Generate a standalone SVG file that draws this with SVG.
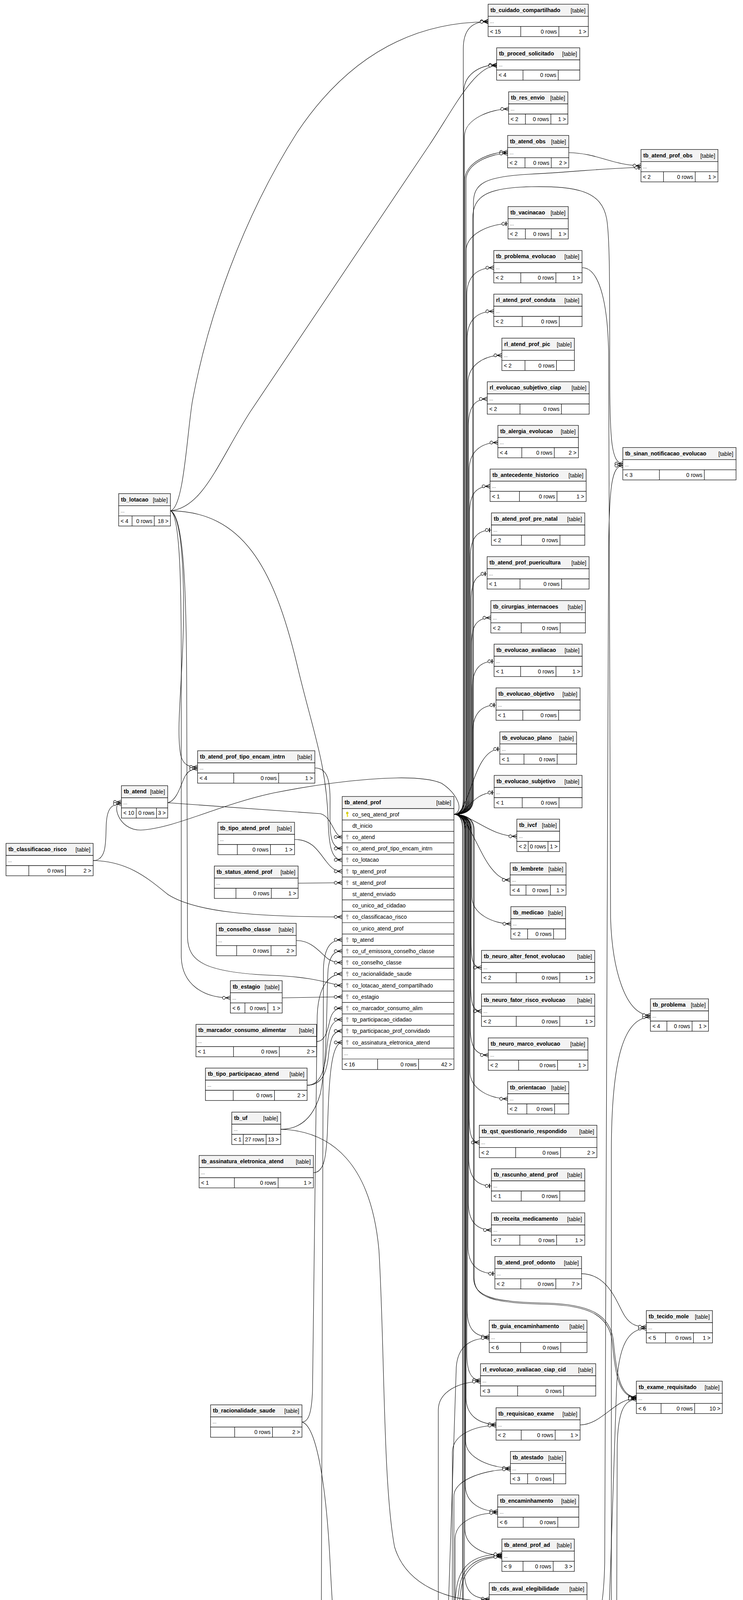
<svg xmlns="http://www.w3.org/2000/svg" xmlns:xlink="http://www.w3.org/1999/xlink" width="1902" height="6987" viewBox="0 0 1902 6987">
<style>
text{font-family:"Liberation Sans",Arial,Helvetica,sans-serif;font-size:14px;fill:#000}
.n{font-weight:bold}
.e{text-anchor:end}
.d{font-size:12px;fill:#444}
.t rect{stroke:#000;stroke-width:1.2}
.hd{fill:#f3f3f3}
.bd{fill:#fff}
.dv{stroke:#000;stroke-width:1.2;fill:none}
#connectors path{fill:none;stroke:#000;stroke-width:1.1}
.m{marker-end:url(#many)}
.o{marker-end:url(#one)}
</style>
<defs>
<marker id="many" viewBox="-22 -8 23 16" refX="0" refY="0" markerWidth="23" markerHeight="16" markerUnits="userSpaceOnUse" orient="auto" overflow="visible">
<path d="M-12,0L0,-5M-12,0L0,5M-12,0L0,0" stroke="#000" stroke-width="1.3" fill="none"/>
<circle cx="-16.5" cy="0" r="3.8" fill="#fff" stroke="#000" stroke-width="1.2"/>
</marker>
<marker id="one" viewBox="-22 -8 23 16" refX="0" refY="0" markerWidth="23" markerHeight="16" markerUnits="userSpaceOnUse" orient="auto" overflow="visible">
<path d="M-5,-5.5L-5,5.5" stroke="#000" stroke-width="2.4" fill="none"/>
<circle cx="-12" cy="0" r="3.8" fill="#fff" stroke="#000" stroke-width="1.2"/>
</marker>
<g id="pk"><ellipse cx="0" cy="-3.2" rx="2.6" ry="3" fill="#e2d800" stroke="#a89c00" stroke-width=".6"/><rect x="-1" y="-0.8" width="2" height="7.5" fill="#e2d800"/><rect x="1" y="3.5" width="1.8" height="1.4" fill="#e2d800"/></g>
<g id="fk"><ellipse cx="0" cy="-3.2" rx="2.6" ry="3" fill="#bcbcbc" stroke="#999" stroke-width=".6"/><rect x="-1" y="-0.8" width="2" height="7.5" fill="#bcbcbc"/><rect x="1" y="3.5" width="1.8" height="1.4" fill="#bcbcbc"/></g>
</defs>
<rect width="1902" height="6987" fill="#fff"/>

<g id="connectors">
<!-- from tb_atend_prof -->
<path class="m" d="M1162,2085Q1186,2085 1186,2045L1186,124.7C1186,79.7 1204.5,54.7 1249.5,54.7"/>
<path class="m" d="M1162,2085Q1187,2085 1187,2045L1187,236.4C1187,191.4 1226.4,166.4 1271.4,166.4"/>
<path class="m" d="M1162,2085Q1189,2085 1189,2045L1189,349C1189,304 1257,279 1302,279"/>
<path class="m" d="M1162,2085Q1190,2085 1190,2045L1190,460.7C1190,415.7 1254.5,389 1299.5,389"/>
<path class="m" d="M1162,2085Q1193,2085 1193,2045L1193,462C1193,418 1255,393 1299.5,393"/>
<path class="o" d="M1162,2085Q1212,2085 1212,2045L1212,520C1212,470 1240,452 1355,446C1480,440 1560,429 1640.8,429"/>
<path class="o" d="M1162,2085Q1193,2085 1193,2045L1193,642.8C1193,597.8 1255.5,572.8 1300.5,572.8"/>
<path class="m" d="M1162,2085Q1195,2085 1195,2045L1195,755.3C1195,710.3 1219,685.3 1264,685.3"/>
<path class="m" d="M1162,2085Q1196,2085 1196,2045L1196,867C1196,822 1219,797 1264,797"/>
<path class="m" d="M1162,2085Q1198,2085 1198,2045L1198,979.6C1198,934.6 1239.7,909.6 1284.7,909.6"/>
<path class="m" d="M1162,2085Q1199,2085 1199,2045L1199,1091.3C1199,1046.3 1212.4,1021.3 1247.4,1021.3"/>
<path class="m" d="M1162,2085Q1201,2085 1201,2045L1201,1203C1201,1158 1229.5,1133 1274.5,1133"/>
<path class="m" d="M1162,2085Q1210,2085 1210,2045L1210,560C1210,500 1250,480 1360,478C1480,476 1540,490 1553,560C1563,620 1560,800 1561,1000C1562,1120 1565,1187 1594.4,1187"/>
<path class="m" d="M1162,2085Q1202,2085 1202,2045L1202,1314.8C1202,1269.8 1214.5,1244.8 1254.5,1244.8"/>
<path class="o" d="M1162,2085Q1204,2085 1204,2045L1204,1427C1204,1382 1218,1357 1258,1357"/>
<path class="o" d="M1162,2085Q1206,2085 1206,2045L1206,1539C1206,1494 1217,1469 1247,1469"/>
<path class="m" d="M1162,2085Q1207,2085 1207,2045L1207,1651.5C1207,1606.5 1216.5,1581.5 1256.5,1581.5"/>
<path class="o" d="M1162,2085Q1209,2085 1209,2045L1209,1763C1209,1718 1224.7,1693 1264.7,1693"/>
<path class="o" d="M1162,2085Q1210,2085 1210,2045L1210,1875C1210,1830 1229.8,1805 1269.8,1805"/>
<path class="o" d="M1162,2085C1205,2085 1209.5,1917.5 1279.5,1917.5"/>
<path class="o" d="M1162,2085C1200,2085 1205,2029 1265,2029"/>
<path class="m" d="M1162,2085C1210,2085 1253,2141 1323,2141"/>
<path class="m" d="M1162,2085C1210,2085 1236,2252.7 1306,2252.7"/>
<path class="m" d="M1162,2085Q1208,2085 1208,2125L1208,2295C1208,2340 1262.7,2365 1307.7,2365"/>
<path class="m" d="M1162,2085Q1206,2085 1206,2125L1206,2407C1206,2452 1207.5,2477 1232.5,2477"/>
<path class="m" d="M1162,2085Q1205,2085 1205,2125L1205,2518.6C1205,2563.6 1207.5,2588.6 1232.5,2588.6"/>
<path class="m" d="M1162,2085Q1204,2085 1204,2125L1204,2631C1204,2676 1215,2701 1250,2701"/>
<path class="m" d="M1162,2085Q1203,2085 1203,2125L1203,2743C1203,2788 1254.5,2813 1299.5,2813"/>
<path class="m" d="M1162,2085Q1201,2085 1201,2125L1201,2854.6C1201,2899.6 1205,2924.6 1227,2924.6"/>
<path class="o" d="M1162,2085Q1200,2085 1200,2125L1200,2966C1200,3011 1218,3036 1258,3036"/>
<path class="m" d="M1162,2085Q1199,2085 1199,2125L1199,3078.8C1199,3123.8 1218,3148.8 1258,3148.8"/>
<path class="o" d="M1162,2085Q1198,2085 1198,2125L1198,3190.6C1198,3235.6 1221.8,3260.6 1266.8,3260.6"/>
<path class="m" d="M1162,2085Q1196,2085 1196,2125L1196,3353.6C1196,3398.6 1212.4,3422 1252.4,3422"/>
<path class="m" d="M1162,2085Q1195,2085 1195,2125L1195,3465C1195,3510 1205,3533 1230,3533"/>
<path class="m" d="M1162,2085Q1212,2085 1212,2125L1212,3270C1213,3320 1260,3333 1400,3336C1500,3339 1560,3360 1570,3430C1578,3520 1588,3576.5 1629,3576.5"/>
<path class="m" d="M1162,2085Q1214,2085 1214,2125L1214,3273C1215,3323 1262,3336 1400,3339C1498,3342 1557,3362 1567,3432C1575,3522 1585,3577.5 1629,3577.5"/>
<path class="m" d="M1162,2085Q1193,2085 1193,2125L1193,3577.8C1193,3622.8 1224.8,3646 1269.8,3646"/>
<path class="m" d="M1162,2085Q1192,2085 1192,2125L1192,3689.6C1192,3734.6 1261.6,3758 1306.6,3758"/>
<path class="m" d="M1162,2085Q1191,2085 1191,2125L1191,3801C1191,3846 1229,3869 1274,3869"/>
<path class="m" d="M1162,2085Q1190,2085 1190,2125L1190,3913.8C1190,3958.8 1239.7,3981.5 1284.7,3981.5"/>
<path class="m" d="M1162,2085Q1189,2085 1189,2125L1189,4025.5C1189,4070.5 1207.4,4093 1252.4,4093"/>
<path class="m" d="M1162,2085Q1186,2085 1186,2125L1186,4348.7C1186,4393.7 1214.6,4418.7 1239.6,4418.7"/>
<path class="m" d="M1162,2085Q1184,2085 1184,2125L1184,4699C1184,4744 1215.6,4767 1260.6,4767"/>
<path class="m" d="M1162,2085C1190,2075 1170,2030 1130,2005C1060,1975 850,2000 700,2030C560,2060 450,2120 360,2125C300,2125 285,2053 310.8,2053"/>
<!-- from tb_cid10 -->
<path class="m" d="M1095,4243C1180,4243 1200,4208 1271.9,4208"/>
<path class="m" d="M1095,4243C1160,4243 1180,4097 1252.4,4097"/>
<path class="m" d="M1095,4243C1150,4243 1165,4150 1175,4070C1182,4010 1220,3983.8 1284.7,3983.8"/>
<path class="m" d="M1095,4243C1155,4243 1172,4140 1180,4070C1187,4015 1225,3986 1284.7,3986"/>
<path class="m" d="M1095,4243C1145,4243 1160,4150 1168,4070C1176,4005 1215,3979 1284.7,3979"/>
<path class="m" d="M1095,4243Q1165,4243 1165,4200L1165,3940C1165,3895 1220,3873 1274,3873"/>
<path class="m" d="M1095,4243Q1162,4243 1162,4200L1162,3830C1162,3785 1250,3761.5 1306.6,3761.5"/>
<path class="m" d="M1095,4243Q1158,4243 1158,4200L1158,3718C1158,3673 1215,3649.5 1269.8,3649.5"/>
<path class="m" d="M1095,4243Q1122,4243 1122,4200L1122,3610C1122,3560 1180,3537 1230,3537"/>
<path class="m" d="M1095,4243Q1140,4243 1145,4200L1168,3500C1172,3445 1205,3425.5 1252.4,3425.5"/>
<path class="m" d="M1095,4243C1150,4245 1160,4300 1170,4380C1180,4450 1200,4477.1 1239.6,4477.1"/>
<path class="m" d="M1095,4243C1160,4245 1175,4350 1180,4450L1182,4550C1185,4600 1220,4622 1269.8,4622"/>
<path class="m" d="M1095,4243C1160,4245 1175,4400 1178,4550L1180,4700C1182,4750 1220,4771 1260.6,4771"/>
<path class="m" d="M1095,4243C1160,4245 1180,4450 1185,4650L1187,4800C1195,4860 1250,4880.7 1300.5,4880.7"/>
<path class="m" d="M1095,4243C1160,4245 1175,4500 1180,4700L1185,4900C1190,4965 1210,4992.5 1243.7,4992.5"/>
<path class="m" d="M1095,4243C1165,4245 1185,4500 1190,4750L1192,5000C1200,5080 1240,5105 1295.4,5105"/>
<path class="m" d="M1095,4243C1170,4245 1190,4500 1195,4750L1197,5010C1205,5085 1245,5102 1295.4,5102"/>
<path class="m" d="M1095,4243C1160,4245 1180,4500 1185,4750L1188,5000C1196,5085 1235,5108 1295.4,5108"/>
<path class="m" d="M1095,4243C1165,4245 1190,4500 1195,4800L1200,5130C1205,5190 1225,5216.7 1258,5216.7"/>
<path class="m" d="M1095,4243C1160,4245 1175,4500 1178,4800L1182,5200C1190,5290 1220,5326 1258,5326"/>
<path class="m" d="M1095,4243C1150,4245 1160,4500 1160,4800L1162,5250C1170,5380 1230,5443 1289.8,5443"/>
<path class="m" d="M1095,4243C1200,4245 1400,4290 1520,4270C1560,4262 1565,4200 1565,4100L1565,2950C1565,2700 1600,2604 1665,2604"/>
<path class="m" d="M1095,4243C1150,4245 1160,4400 1170,4550C1180,4650 1250,4688 1400,4688C1500,4688 1540,4660 1545,4550L1578,3560C1582,3440 1610,3401 1654.5,3401"/>
<!-- from tb_proced -->
<path class="m" d="M1160.5,5959L1297,5959"/>
<path class="m" d="M1160.5,5958.4C1190,5958 1195,5900 1205,5875C1212,5855 1222,5847 1241.7,5847"/>
<path class="m" d="M1160.5,5958.4C1190,5958 1195,5850 1198,5800C1200,5755 1215,5735.6 1244.8,5735.6"/>
<path class="m" d="M1160.5,5958.4C1185,5958 1180,5800 1182,5700C1184,5650 1200,5623.8 1239.6,5623.8"/>
<path class="m" d="M1160.5,5958.4Q1195,5958.4 1195,5920L1195,5520C1195,5465 1240,5439 1289.8,5439"/>
<path class="m" d="M1160.5,5958.4Q1185,5958.4 1185,5920L1185,4520C1185,4470 1210,4447.9 1239.6,4447.9"/>
<path class="m" d="M1160.5,5958.4Q1198,5958.4 1198,5920L1198,5590C1198,5540 1250,5528 1360,5527C1480,5525 1560,5480 1575,5300L1580,3700C1582,3620 1595,3582.5 1629,3582.5"/>
<path class="m" d="M1160.5,5958.4Q1202,5958.4 1202,5920L1202,5610C1202,5565 1250,5542 1400,5541C1520,5540 1560,5530 1575,5480C1585,5448 1595,5440 1611.5,5440"/>
<path class="m" d="M1160.5,5958.4Q1182,5958.4 1182,5995L1182,6140C1182,6240 1280,6271 1380,6271C1500,6271 1555,6250 1562,6150L1556,5950C1556,5880 1565,5849 1593,5849"/>
<path class="m" d="M1160.5,5958.4C1195,5958 1200,6000 1212,6030C1222,6060 1240,6071.4 1266,6071.4"/>
<path class="m" d="M1160.5,5958.4C1190,5960 1195,6050 1200,6110C1205,6160 1220,6183.8 1253.5,6183.8"/>
<path class="m" d="M1160.5,5958.4Q1206,5958.4 1206,6000L1206,6260C1206,6305 1218.6,6330 1258.6,6330"/>
<path class="m" d="M1160.5,5958.4Q1209,5958.4 1209,6000L1209,6371.7C1209,6416.7 1222,6441.7 1262,6441.7"/>
<path class="m" d="M1160.5,5958.4Q1212,5958.4 1212,6000L1212,6484C1212,6529 1228,6554 1268,6554"/>
<path class="m" d="M1160.5,5958.4Q1214,5958.4 1214,6000L1214,6596.6C1214,6641.6 1223,6666.6 1263,6666.6"/>
<path class="o" d="M1160.5,5958.4Q1216,5958.4 1216,6000L1216,6708C1216,6753 1250,6778 1290,6778"/>
<path class="m" d="M1160.5,5958.4Q1218,5958.4 1218,6000L1218,6820.8C1218,6865.8 1228.5,6890.8 1253.5,6890.8"/>
<!-- right column -->
<path class="m" d="M1490,685.3C1530,685 1555,760 1558,900L1563,2350C1567,2480 1600,2599 1665,2599"/>
<path class="m" d="M1483,4208C1520,4208 1545,4150 1548,4000L1558,1400C1560,1250 1565,1192 1594.4,1192"/>
<path class="m" d="M1456,390.7C1530,392 1570,424 1640.8,424"/>
<path class="m" d="M1488.7,3260.6C1560,3262 1580,3340 1600,3370C1615,3392 1630,3396.5 1654.5,3396.5"/>
<path class="m" d="M1485,3647.8C1540,3648 1575,3579.5 1629,3579.5"/>
<path class="m" d="M1497,5328.4C1550,5330 1560,5390 1580,5420C1590,5433 1600,5436 1611.5,5436"/>
<path class="m" d="M1497,5216.7C1540,5218 1548,5280 1549,5400L1551,5700C1553,5800 1565,5845 1593,5845"/>
<!-- left side -->
<path class="m" d="M436.3,1307.6C470,1300 478,1120 492,1030C530,820 620,560 760,340C880,160 1040,56 1249.5,56"/>
<path class="m" d="M436.3,1307.6C520,1300 560,1180 640,1055L1100,370C1160,280 1215,168 1271.4,168"/>
<path class="m" d="M436.3,1307.6C460,1320 470,1420 470,1560C470,1720 450,1860 462,1930C468,1960 485,1963.5 505.8,1963.5"/>
<path class="m" d="M436.3,1307.6C620,1310 700,1450 760,1700C800,1870 835,1950 840,2100C842,2170 850,2201.4 876,2201.4"/>
<path class="m" d="M436.3,1307.6C470,1320 478,1500 478,1800L480,2400C482,2460 520,2490 700,2497C820,2502 850,2522.6 876,2522.6"/>
<path class="m" d="M436.3,1307.6C462,1320 465,1500 464,1800L464,2450C466,2520 520,2554.5 589.7,2554.5"/>
<path class="m" d="M238.5,2203C275,2203 270,2150 272,2110C274,2070 285,2058 310.8,2058"/>
<path class="m" d="M238.5,2203C330,2205 380,2250 430,2290C500,2335 650,2347.4 876,2347.4"/>
<path class="m" d="M429.3,2055L820,2083C850,2090 855,2143 876,2143"/>
<path class="m" d="M429.3,2055C455,2050 465,2000 475,1985C485,1970 495,1968.5 505.8,1968.5"/>
<path class="m" d="M806,1966C835,1966 845,1990 845,2050C845,2120 840,2172.2 876,2172.2"/>
<path class="m" d="M754,2149C800,2149 815,2180 835,2205C850,2225 860,2230.6 876,2230.6"/>
<path class="m" d="M763.2,2261L876,2259.8"/>
<path class="m" d="M758.3,2407.7C800,2408 820,2440 840,2455C855,2464 865,2464.2 876,2464.2"/>
<path class="m" d="M722.4,2554.5L876,2551.8"/>
<path class="m" d="M810.4,2666.4C835,2666 840,2630 845,2610C850,2590 860,2581 876,2581"/>
<path class="m" d="M786.2,2778.3C820,2778 830,2740 835,2700C840,2640 845,2610.2 876,2610.2"/>
<path class="m" d="M786.2,2778.3C825,2778 835,2745 840,2710C845,2660 850,2639.4 876,2639.4"/>
<path class="m" d="M718.7,2891C760,2891 800,2870 820,2800C840,2700 835,2550 840,2480C845,2440 860,2435 876,2435"/>
<path class="m" d="M718.7,2891C850,2895 950,2980 970,3200C985,3450 980,3800 1010,3960C1040,4060 1150,4099 1252.4,4099"/>
<path class="m" d="M802.3,3002C830,3002 835,2960 838,2900C842,2780 845,2668.6 876,2668.6"/>
<path class="m" d="M773,3640.4C792,3640 798,3610 800,3560L812,2600C815,2520 845,2493.4 876,2493.4"/>
<path class="m" d="M773,3640.4C810,3650 835,3800 845,4000C860,4300 880,4500 1000,4840C1080,5050 1180,5214 1258,5214"/>
<path class="m" d="M739.3,4301L942.4,4301.5"/>
<path class="m" d="M734,5273C800,5273 845,5200 850,5000C855,4800 822,4500 822,4300L828,2480C830,2420 850,2405.8 876,2405.8"/>
<path class="m" d="M734,5273C950,5270 1100,5219 1258,5219"/>
<path class="m" d="M734,5273C950,5280 1100,5331 1258,5331"/>
</g>

<!-- main column tables -->
<g id="tb_cuidado_compartilhado" class="t" transform="translate(1249.5,10.7)"><rect class="hd" width="256.5" height="31"/><rect class="bd" y="31" width="256.5" height="26"/><rect class="bd" y="57" width="256.5" height="26"/><path class="dv" d="M83.5,57V83M181.1,57V83"/><text class="n" x="6" y="20">tb_cuidado_compartilhado</text><text class="e" x="249.5" y="21">[table]</text><text class="d" x="5" y="48">...</text><text x="5" y="75">&lt; 15</text><text class="e" x="176.1" y="75">0 rows</text><text class="e" x="251.5" y="75">1 &gt;</text></g>
<g id="tb_proced_solicitado" class="t" transform="translate(1271.4,122.4)"><rect class="hd" width="212.8" height="31"/><rect class="bd" y="31" width="212.8" height="26"/><rect class="bd" y="57" width="212.8" height="26"/><path class="dv" d="M67.4,57V83M157.6,57V83"/><text class="n" x="6" y="20">tb_proced_solicitado</text><text class="e" x="205.8" y="21">[table]</text><text class="d" x="5" y="48">...</text><text x="5" y="75">&lt; 4</text><text class="e" x="152.6" y="75">0 rows</text></g>
<g id="tb_res_envio" class="t" transform="translate(1302,235)"><rect class="hd" width="151.6" height="31"/><rect class="bd" y="31" width="151.6" height="26"/><rect class="bd" y="57" width="151.6" height="26"/><path class="dv" d="M43,57V83M108.2,57V83"/><text class="n" x="6" y="20">tb_res_envio</text><text class="e" x="144.6" y="21">[table]</text><text class="d" x="5" y="48">...</text><text x="5" y="75">&lt; 2</text><text class="e" x="103.2" y="75">0 rows</text><text class="e" x="146.6" y="75">1 &gt;</text></g>
<g id="tb_atend_obs" class="t" transform="translate(1299.5,346.7)"><rect class="hd" width="156.5" height="31"/><rect class="bd" y="31" width="156.5" height="26"/><rect class="bd" y="57" width="156.5" height="26"/><path class="dv" d="M44.4,57V83M111.7,57V83"/><text class="n" x="6" y="20">tb_atend_obs</text><text class="e" x="149.5" y="21">[table]</text><text class="d" x="5" y="48">...</text><text x="5" y="75">&lt; 2</text><text class="e" x="106.7" y="75">0 rows</text><text class="e" x="151.5" y="75">2 &gt;</text></g>
<g id="tb_vacinacao" class="t" transform="translate(1300.5,528.8)"><rect class="hd" width="154.1" height="31"/><rect class="bd" y="31" width="154.1" height="26"/><rect class="bd" y="57" width="154.1" height="26"/><path class="dv" d="M44.4,57V83M110.7,57V83"/><text class="n" x="6" y="20">tb_vacinacao</text><text class="e" x="147.1" y="21">[table]</text><text class="d" x="5" y="48">...</text><text x="5" y="75">&lt; 2</text><text class="e" x="105.7" y="75">0 rows</text><text class="e" x="149.1" y="75">1 &gt;</text></g>
<g id="tb_problema_evolucao" class="t" transform="translate(1264,641.3)"><rect class="hd" width="226" height="31"/><rect class="bd" y="31" width="226" height="26"/><rect class="bd" y="57" width="226" height="26"/><path class="dv" d="M69.2,57V83M159,57V83"/><text class="n" x="6" y="20">tb_problema_evolucao</text><text class="e" x="219" y="21">[table]</text><text class="d" x="5" y="48">...</text><text x="5" y="75">&lt; 2</text><text class="e" x="154" y="75">0 rows</text><text class="e" x="221" y="75">1 &gt;</text></g>
<g id="rl_atend_prof_conduta" class="t" transform="translate(1264,753)"><rect class="hd" width="226" height="31"/><rect class="bd" y="31" width="226" height="26"/><rect class="bd" y="57" width="226" height="26"/><path class="dv" d="M72.7,57V83M167.6,57V83"/><text class="n" x="6" y="20">rl_atend_prof_conduta</text><text class="e" x="219" y="21">[table]</text><text class="d" x="5" y="48">...</text><text x="5" y="75">&lt; 2</text><text class="e" x="162.6" y="75">0 rows</text></g>
<g id="rl_atend_prof_pic" class="t" transform="translate(1284.7,865.6)"><rect class="hd" width="185.7" height="31"/><rect class="bd" y="31" width="185.7" height="26"/><rect class="bd" y="57" width="185.7" height="26"/><path class="dv" d="M59.2,57V83M139.8,57V83"/><text class="n" x="6" y="20">rl_atend_prof_pic</text><text class="e" x="178.7" y="21">[table]</text><text class="d" x="5" y="48">...</text><text x="5" y="75">&lt; 2</text><text class="e" x="134.8" y="75">0 rows</text></g>
<g id="rl_evolucao_subjetivo_ciap" class="t" transform="translate(1247.4,977.3)"><rect class="hd" width="260.8" height="31"/><rect class="bd" y="31" width="260.8" height="26"/><rect class="bd" y="57" width="260.8" height="26"/><path class="dv" d="M83.7,57V83M189.8,57V83"/><text class="n" x="6" y="20">rl_evolucao_subjetivo_ciap</text><text class="e" x="253.8" y="21">[table]</text><text class="d" x="5" y="48">...</text><text x="5" y="75">&lt; 2</text><text class="e" x="184.8" y="75">0 rows</text></g>
<g id="tb_alergia_evolucao" class="t" transform="translate(1274.5,1089)"><rect class="hd" width="206.1" height="31"/><rect class="bd" y="31" width="206.1" height="26"/><rect class="bd" y="57" width="206.1" height="26"/><path class="dv" d="M61.2,57V83M144.4,57V83"/><text class="n" x="6" y="20">tb_alergia_evolucao</text><text class="e" x="199.1" y="21">[table]</text><text class="d" x="5" y="48">...</text><text x="5" y="75">&lt; 4</text><text class="e" x="139.4" y="75">0 rows</text><text class="e" x="201.1" y="75">2 &gt;</text></g>
<g id="tb_antecedente_historico" class="t" transform="translate(1254.5,1200.8)"><rect class="hd" width="246" height="31"/><rect class="bd" y="31" width="246" height="26"/><rect class="bd" y="57" width="246" height="26"/><path class="dv" d="M75.2,57V83M171.3,57V83"/><text class="n" x="6" y="20">tb_antecedente_historico</text><text class="e" x="239" y="21">[table]</text><text class="d" x="5" y="48">...</text><text x="5" y="75">&lt; 1</text><text class="e" x="166.3" y="75">0 rows</text><text class="e" x="241" y="75">1 &gt;</text></g>
<g id="tb_atend_prof_pre_natal" class="t" transform="translate(1258,1313)"><rect class="hd" width="239" height="31"/><rect class="bd" y="31" width="239" height="26"/><rect class="bd" y="57" width="239" height="26"/><path class="dv" d="M76.8,57V83M175.5,57V83"/><text class="n" x="6" y="20">tb_atend_prof_pre_natal</text><text class="e" x="232" y="21">[table]</text><text class="d" x="5" y="48">...</text><text x="5" y="75">&lt; 2</text><text class="e" x="170.5" y="75">0 rows</text></g>
<g id="tb_atend_prof_puericultura" class="t" transform="translate(1247,1425)"><rect class="hd" width="261" height="31"/><rect class="bd" y="31" width="261" height="26"/><rect class="bd" y="57" width="261" height="26"/><path class="dv" d="M84.2,57V83M190.6,57V83"/><text class="n" x="6" y="20">tb_atend_prof_puericultura</text><text class="e" x="254" y="21">[table]</text><text class="d" x="5" y="48">...</text><text x="5" y="75">&lt; 1</text><text class="e" x="185.6" y="75">0 rows</text></g>
<g id="tb_cirurgias_internacoes" class="t" transform="translate(1256.5,1537.5)"><rect class="hd" width="242" height="31"/><rect class="bd" y="31" width="242" height="26"/><rect class="bd" y="57" width="242" height="26"/><path class="dv" d="M77.8,57V83M177.5,57V83"/><text class="n" x="6" y="20">tb_cirurgias_internacoes</text><text class="e" x="235" y="21">[table]</text><text class="d" x="5" y="48">...</text><text x="5" y="75">&lt; 2</text><text class="e" x="172.5" y="75">0 rows</text></g>
<g id="tb_evolucao_avaliacao" class="t" transform="translate(1264.7,1649)"><rect class="hd" width="225.6" height="31"/><rect class="bd" y="31" width="225.6" height="26"/><rect class="bd" y="57" width="225.6" height="26"/><path class="dv" d="M68,57V83M158.6,57V83"/><text class="n" x="6" y="20">tb_evolucao_avaliacao</text><text class="e" x="218.6" y="21">[table]</text><text class="d" x="5" y="48">...</text><text x="5" y="75">&lt; 1</text><text class="e" x="153.6" y="75">0 rows</text><text class="e" x="220.6" y="75">1 &gt;</text></g>
<g id="tb_evolucao_objetivo" class="t" transform="translate(1269.8,1761)"><rect class="hd" width="215.2" height="31"/><rect class="bd" y="31" width="215.2" height="26"/><rect class="bd" y="57" width="215.2" height="26"/><path class="dv" d="M68.6,57V83M160.1,57V83"/><text class="n" x="6" y="20">tb_evolucao_objetivo</text><text class="e" x="208.2" y="21">[table]</text><text class="d" x="5" y="48">...</text><text x="5" y="75">&lt; 1</text><text class="e" x="155.1" y="75">0 rows</text></g>
<g id="tb_evolucao_plano" class="t" transform="translate(1279.5,1873.5)"><rect class="hd" width="196.5" height="31"/><rect class="bd" y="31" width="196.5" height="26"/><rect class="bd" y="57" width="196.5" height="26"/><path class="dv" d="M61.9,57V83M146.8,57V83"/><text class="n" x="6" y="20">tb_evolucao_plano</text><text class="e" x="189.5" y="21">[table]</text><text class="d" x="5" y="48">...</text><text x="5" y="75">&lt; 1</text><text class="e" x="141.8" y="75">0 rows</text></g>
<g id="tb_evolucao_subjetivo" class="t" transform="translate(1265,1985)"><rect class="hd" width="225" height="31"/><rect class="bd" y="31" width="225" height="26"/><rect class="bd" y="57" width="225" height="26"/><path class="dv" d="M71.8,57V83M166,57V83"/><text class="n" x="6" y="20">tb_evolucao_subjetivo</text><text class="e" x="218" y="21">[table]</text><text class="d" x="5" y="48">...</text><text x="5" y="75">&lt; 1</text><text class="e" x="161" y="75">0 rows</text></g>
<g id="tb_ivcf" class="t" transform="translate(1323,2097)"><rect class="hd" width="109.5" height="31"/><rect class="bd" y="31" width="109.5" height="26"/><rect class="bd" y="57" width="109.5" height="26"/><path class="dv" d="M29.2,57V83M79.8,57V83"/><text class="n" x="6" y="20">tb_ivcf</text><text class="e" x="102.5" y="21">[table]</text><text class="d" x="5" y="48">...</text><text x="5" y="75">&lt; 2</text><text class="e" x="74.8" y="75">0 rows</text><text class="e" x="104.5" y="75">1 &gt;</text></g>
<g id="tb_lembrete" class="t" transform="translate(1306,2208.7)"><rect class="hd" width="143" height="31"/><rect class="bd" y="31" width="143" height="26"/><rect class="bd" y="57" width="143" height="26"/><path class="dv" d="M40.5,57V83M103,57V83"/><text class="n" x="6" y="20">tb_lembrete</text><text class="e" x="136" y="21">[table]</text><text class="d" x="5" y="48">...</text><text x="5" y="75">&lt; 4</text><text class="e" x="98" y="75">0 rows</text><text class="e" x="138" y="75">1 &gt;</text></g>
<g id="tb_medicao" class="t" transform="translate(1307.7,2321)"><rect class="hd" width="140.1" height="31"/><rect class="bd" y="31" width="140.1" height="26"/><rect class="bd" y="57" width="140.1" height="26"/><path class="dv" d="M42.9,57V83M109.4,57V83"/><text class="n" x="6" y="20">tb_medicao</text><text class="e" x="133.1" y="21">[table]</text><text class="d" x="5" y="48">...</text><text x="5" y="75">&lt; 2</text><text class="e" x="104.4" y="75">0 rows</text></g>
<g id="tb_neuro_alter_fenot_evolucao" class="t" transform="translate(1232.5,2433)"><rect class="hd" width="290" height="31"/><rect class="bd" y="31" width="290" height="26"/><rect class="bd" y="57" width="290" height="26"/><path class="dv" d="M89,57V83M200.5,57V83"/><text class="n" x="6" y="20">tb_neuro_alter_fenot_evolucao</text><text class="e" x="283" y="21">[table]</text><text class="d" x="5" y="48">...</text><text x="5" y="75">&lt; 2</text><text class="e" x="195.5" y="75">0 rows</text><text class="e" x="285" y="75">1 &gt;</text></g>
<g id="tb_neuro_fator_risco_evolucao" class="t" transform="translate(1232.5,2544.6)"><rect class="hd" width="290" height="31"/><rect class="bd" y="31" width="290" height="26"/><rect class="bd" y="57" width="290" height="26"/><path class="dv" d="M89,57V83M200.5,57V83"/><text class="n" x="6" y="20">tb_neuro_fator_risco_evolucao</text><text class="e" x="283" y="21">[table]</text><text class="d" x="5" y="48">...</text><text x="5" y="75">&lt; 2</text><text class="e" x="195.5" y="75">0 rows</text><text class="e" x="285" y="75">1 &gt;</text></g>
<g id="tb_neuro_marco_evolucao" class="t" transform="translate(1250,2657)"><rect class="hd" width="255" height="31"/><rect class="bd" y="31" width="255" height="26"/><rect class="bd" y="57" width="255" height="26"/><path class="dv" d="M77.6,57V83M177.4,57V83"/><text class="n" x="6" y="20">tb_neuro_marco_evolucao</text><text class="e" x="248" y="21">[table]</text><text class="d" x="5" y="48">...</text><text x="5" y="75">&lt; 2</text><text class="e" x="172.4" y="75">0 rows</text><text class="e" x="250" y="75">1 &gt;</text></g>
<g id="tb_orientacao" class="t" transform="translate(1299.5,2769)"><rect class="hd" width="156.5" height="31"/><rect class="bd" y="31" width="156.5" height="26"/><rect class="bd" y="57" width="156.5" height="26"/><path class="dv" d="M49.1,57V83M120.2,57V83"/><text class="n" x="6" y="20">tb_orientacao</text><text class="e" x="149.5" y="21">[table]</text><text class="d" x="5" y="48">...</text><text x="5" y="75">&lt; 2</text><text class="e" x="115.2" y="75">0 rows</text></g>
<g id="tb_qst_questionario_respondido" class="t" transform="translate(1227,2880.6)"><rect class="hd" width="301" height="31"/><rect class="bd" y="31" width="301" height="26"/><rect class="bd" y="57" width="301" height="26"/><path class="dv" d="M93,57V83M208,57V83"/><text class="n" x="6" y="20">tb_qst_questionario_respondido</text><text class="e" x="294" y="21">[table]</text><text class="d" x="5" y="48">...</text><text x="5" y="75">&lt; 2</text><text class="e" x="203" y="75">0 rows</text><text class="e" x="296" y="75">2 &gt;</text></g>
<g id="tb_rascunho_atend_prof" class="t" transform="translate(1258,2992)"><rect class="hd" width="239" height="31"/><rect class="bd" y="31" width="239" height="26"/><rect class="bd" y="57" width="239" height="26"/><path class="dv" d="M76.3,57V83M175,57V83"/><text class="n" x="6" y="20">tb_rascunho_atend_prof</text><text class="e" x="232" y="21">[table]</text><text class="d" x="5" y="48">...</text><text x="5" y="75">&lt; 1</text><text class="e" x="170" y="75">0 rows</text></g>
<g id="tb_receita_medicamento" class="t" transform="translate(1258,3104.8)"><rect class="hd" width="239" height="31"/><rect class="bd" y="31" width="239" height="26"/><rect class="bd" y="57" width="239" height="26"/><path class="dv" d="M72.7,57V83M166.8,57V83"/><text class="n" x="6" y="20">tb_receita_medicamento</text><text class="e" x="232" y="21">[table]</text><text class="d" x="5" y="48">...</text><text x="5" y="75">&lt; 7</text><text class="e" x="161.8" y="75">0 rows</text><text class="e" x="234" y="75">1 &gt;</text></g>
<g id="tb_atend_prof_odonto" class="t" transform="translate(1266.8,3216.6)"><rect class="hd" width="221.9" height="31"/><rect class="bd" y="31" width="221.9" height="26"/><rect class="bd" y="57" width="221.9" height="26"/><path class="dv" d="M66.4,57V83M156,57V83"/><text class="n" x="6" y="20">tb_atend_prof_odonto</text><text class="e" x="214.9" y="21">[table]</text><text class="d" x="5" y="48">...</text><text x="5" y="75">&lt; 2</text><text class="e" x="151" y="75">0 rows</text><text class="e" x="216.9" y="75">7 &gt;</text></g>
<g id="tb_guia_encaminhamento" class="t" transform="translate(1252.4,3379.6)"><rect class="hd" width="250.2" height="31"/><rect class="bd" y="31" width="250.2" height="26"/><rect class="bd" y="57" width="250.2" height="26"/><path class="dv" d="M80.3,57V83M183.1,57V83"/><text class="n" x="6" y="20">tb_guia_encaminhamento</text><text class="e" x="243.2" y="21">[table]</text><text class="d" x="5" y="48">...</text><text x="5" y="75">&lt; 6</text><text class="e" x="178.1" y="75">0 rows</text></g>
<g id="rl_evolucao_avaliacao_ciap_cid" class="t" transform="translate(1230,3491)"><rect class="hd" width="295" height="31"/><rect class="bd" y="31" width="295" height="26"/><rect class="bd" y="57" width="295" height="26"/><path class="dv" d="M95,57V83M212.7,57V83"/><text class="n" x="6" y="20">rl_evolucao_avaliacao_ciap_cid</text><text class="e" x="288" y="21">[table]</text><text class="d" x="5" y="48">...</text><text x="5" y="75">&lt; 3</text><text class="e" x="207.7" y="75">0 rows</text></g>
<g id="tb_requisicao_exame" class="t" transform="translate(1269.8,3603.8)"><rect class="hd" width="215.2" height="31"/><rect class="bd" y="31" width="215.2" height="26"/><rect class="bd" y="57" width="215.2" height="26"/><path class="dv" d="M64.5,57V83M151.4,57V83"/><text class="n" x="6" y="20">tb_requisicao_exame</text><text class="e" x="208.2" y="21">[table]</text><text class="d" x="5" y="48">...</text><text x="5" y="75">&lt; 2</text><text class="e" x="146.4" y="75">0 rows</text><text class="e" x="210.2" y="75">1 &gt;</text></g>
<g id="tb_atestado" class="t" transform="translate(1306.6,3715.6)"><rect class="hd" width="141.7" height="31"/><rect class="bd" y="31" width="141.7" height="26"/><rect class="bd" y="57" width="141.7" height="26"/><path class="dv" d="M44,57V83M110.5,57V83"/><text class="n" x="6" y="20">tb_atestado</text><text class="e" x="134.7" y="21">[table]</text><text class="d" x="5" y="48">...</text><text x="5" y="75">&lt; 3</text><text class="e" x="105.5" y="75">0 rows</text></g>
<g id="tb_encaminhamento" class="t" transform="translate(1274,3827)"><rect class="hd" width="207.6" height="31"/><rect class="bd" y="31" width="207.6" height="26"/><rect class="bd" y="57" width="207.6" height="26"/><path class="dv" d="M65.4,57V83M153.9,57V83"/><text class="n" x="6" y="20">tb_encaminhamento</text><text class="e" x="200.6" y="21">[table]</text><text class="d" x="5" y="48">...</text><text x="5" y="75">&lt; 6</text><text class="e" x="148.9" y="75">0 rows</text></g>
<g id="tb_atend_prof_ad" class="t" transform="translate(1284.7,3939.8)"><rect class="hd" width="185.6" height="31"/><rect class="bd" y="31" width="185.6" height="26"/><rect class="bd" y="57" width="185.6" height="26"/><path class="dv" d="M54.2,57V83M131.4,57V83"/><text class="n" x="6" y="20">tb_atend_prof_ad</text><text class="e" x="178.6" y="21">[table]</text><text class="d" x="5" y="48">...</text><text x="5" y="75">&lt; 9</text><text class="e" x="126.4" y="75">0 rows</text><text class="e" x="180.6" y="75">3 &gt;</text></g>
<g id="tb_cds_aval_elegibilidade" class="t" transform="translate(1252.4,4051.5)"><rect class="hd" width="250.2" height="31"/><rect class="bd" y="31" width="250.2" height="26"/><rect class="bd" y="57" width="250.2" height="26"/><path class="dv" d="M81.4,57V83M176.5,57V83"/><text class="n" x="6" y="20">tb_cds_aval_elegibilidade</text><text class="e" x="243.2" y="21">[table]</text><text class="d" x="5" y="48">...</text><text x="5" y="75">&lt; 21</text><text class="e" x="171.5" y="75">0 rows</text><text class="e" x="245.2" y="75">2 &gt;</text></g>
<g id="tb_sinan_notificacao" class="t" transform="translate(1271.9,4164)"><rect class="hd" width="211.1" height="31"/><rect class="bd" y="31" width="211.1" height="26"/><rect class="bd" y="57" width="211.1" height="26"/><path class="dv" d="M62.9,57V83M148.8,57V83"/><text class="n" x="6" y="20">tb_sinan_notificacao</text><text class="e" x="204.1" y="21">[table]</text><text class="d" x="5" y="48">...</text><text x="5" y="75">&lt; 1</text><text class="e" x="143.8" y="75">0 rows</text><text class="e" x="206.1" y="75">1 &gt;</text></g>

<g id="rl_atend_proced" class="t"><rect class="bd" x="1239.6" y="4311.7" width="275.7" height="237.2"/><g transform="translate(1242.6,4314.7)"><rect class="hd" width="269.7" height="31"/><rect class="bd" y="31" width="269.7" height="200.2"/><path class="dv" d="M0,60.2H269.7M0,89.4H269.7M0,118.6H269.7M0,147.8H269.7M0,177H269.7M0,206.2H269.7M195,31V231.2M260.4,31V231.2M86.4,206.2V231.2"/><text class="n" x="6" y="20">rl_atend_proced</text><text class="e" x="264" y="21">[table]</text><use xlink:href="#pk" href="#pk" x="13.4" y="45.6"/><text x="25" y="50.6">co_seq_atend_proced</text><text x="200" y="50.6">int8[19]</text><text x="25" y="79.8">st_obrigatorio</text><text x="200" y="79.8">int4[10]</text><use xlink:href="#fk" href="#fk" x="13.4" y="104"/><text x="25" y="109">co_atend_prof</text><text x="200" y="109">int8[19]</text><use xlink:href="#fk" href="#fk" x="13.4" y="133.2"/><text x="25" y="138.2">co_proced</text><text x="200" y="138.2">int8[19]</text><use xlink:href="#fk" href="#fk" x="13.4" y="162.4"/><text x="25" y="167.4">co_cid10_principal</text><text x="200" y="167.4">int8[19]</text><text x="25" y="196.6">st_automatico</text><text x="200" y="196.6">int4[10]</text><text x="5" y="224.2">&lt; 3</text><text class="e" x="190" y="224.2">0 rows</text><text class="e" x="255.4" y="224.2">0 &gt;</text></g></g>

<g id="tb_parte_bucal_cid10" class="t" transform="translate(1269.8,4578)"><rect class="hd" width="215.2" height="31"/><rect class="bd" y="31" width="215.2" height="26"/><rect class="bd" y="57" width="215.2" height="26"/><path class="dv" d="M64,57V83M165.7,57V83"/><text class="n" x="6" y="20">tb_parte_bucal_cid10</text><text class="e" x="208.2" y="21">[table]</text><text class="d" x="5" y="48">...</text><text x="5" y="75">&lt; 2</text><text class="e" x="160.7" y="75">712 rows</text></g>
<g id="rl_evolucao_plano_ciap" class="t" transform="translate(1260.6,4725)"><rect class="hd" width="233.8" height="31"/><rect class="bd" y="31" width="233.8" height="26"/><rect class="bd" y="57" width="233.8" height="26"/><path class="dv" d="M74.7,57V83M172.4,57V83"/><text class="n" x="6" y="20">rl_evolucao_plano_ciap</text><text class="e" x="226.8" y="21">[table]</text><text class="d" x="5" y="48">...</text><text x="5" y="75">&lt; 3</text><text class="e" x="167.4" y="75">0 rows</text></g>
<g id="rl_ciap_cid10" class="t" transform="translate(1300.5,4836.7)"><rect class="hd" width="154" height="31"/><rect class="bd" y="31" width="154" height="26"/><rect class="bd" y="57" width="154" height="26"/><path class="dv" d="M38.9,57V83M128.4,57V83"/><text class="n" x="6" y="20">rl_ciap_cid10</text><text class="e" x="147" y="21">[table]</text><text class="d" x="5" y="48">...</text><text x="5" y="75">&lt; 2</text><text class="e" x="123.4" y="75">3.546 rows</text></g>
<g id="rl_grupo_condicao_ciap_cid" class="t" transform="translate(1243.7,4948.5)"><rect class="hd" width="268.1" height="31"/><rect class="bd" y="31" width="268.1" height="26"/><rect class="bd" y="57" width="268.1" height="26"/><path class="dv" d="M76.8,57V83M203.6,57V83"/><text class="n" x="6" y="20">rl_grupo_condicao_ciap_cid</text><text class="e" x="261.1" y="21">[table]</text><text class="d" x="5" y="48">...</text><text x="5" y="75">&lt; 3</text><text class="e" x="198.6" y="75">1.360 rows</text></g>
<g id="tb_ad_cidadao" class="t" transform="translate(1295.4,5061)"><rect class="hd" width="164.6" height="31"/><rect class="bd" y="31" width="164.6" height="26"/><rect class="bd" y="57" width="164.6" height="26"/><path class="dv" d="M47.6,57V83M117.1,57V83"/><text class="n" x="6" y="20">tb_ad_cidadao</text><text class="e" x="157.6" y="21">[table]</text><text class="d" x="5" y="48">...</text><text x="5" y="75">&lt; 8</text><text class="e" x="112.1" y="75">0 rows</text><text class="e" x="159.6" y="75">1 &gt;</text></g>
<g id="tb_cds_atend_individual" class="t" transform="translate(1258,5172.7)"><rect class="hd" width="239" height="31"/><rect class="bd" y="31" width="239" height="26"/><rect class="bd" y="57" width="239" height="26"/><path class="dv" d="M77.8,57V83M169.4,57V83"/><text class="n" x="6" y="20">tb_cds_atend_individual</text><text class="e" x="232" y="21">[table]</text><text class="d" x="5" y="48">...</text><text x="5" y="75">&lt; 12</text><text class="e" x="164.4" y="75">0 rows</text><text class="e" x="234" y="75">4 &gt;</text></g>
<g id="tb_cds_atend_domiciliar" class="t" transform="translate(1258,5284.4)"><rect class="hd" width="239" height="31"/><rect class="bd" y="31" width="239" height="26"/><rect class="bd" y="57" width="239" height="26"/><path class="dv" d="M76.8,57V83M168.9,57V83"/><text class="n" x="6" y="20">tb_cds_atend_domiciliar</text><text class="e" x="232" y="21">[table]</text><text class="d" x="5" y="48">...</text><text x="5" y="75">&lt; 11</text><text class="e" x="163.9" y="75">0 rows</text><text class="e" x="234" y="75">2 &gt;</text></g>
<g id="rl_proced_cid10" class="t" transform="translate(1289.8,5397)"><rect class="hd" width="175.4" height="31"/><rect class="bd" y="31" width="175.4" height="26"/><rect class="bd" y="57" width="175.4" height="26"/><path class="dv" d="M41.4,57V83M148.3,57V83"/><text class="n" x="6" y="20">rl_proced_cid10</text><text class="e" x="168.4" y="21">[table]</text><text class="d" x="5" y="48">...</text><text x="5" y="75">&lt; 2</text><text class="e" x="143.3" y="75">143.400 rows</text></g>
<g id="rl_cds_atend_odonto_proced" class="t" transform="translate(1239.6,5579.8)"><rect class="hd" width="276.3" height="31"/><rect class="bd" y="31" width="276.3" height="26"/><rect class="bd" y="57" width="276.3" height="26"/><path class="dv" d="M89,57V83M200.6,57V83"/><text class="n" x="6" y="20">rl_cds_atend_odonto_proced</text><text class="e" x="269.3" y="21">[table]</text><text class="d" x="5" y="48">...</text><text x="5" y="75">&lt; 2</text><text class="e" x="195.6" y="75">0 rows</text></g>
<g id="rl_evolucao_odonto_proced" class="t" transform="translate(1244.8,5691.6)"><rect class="hd" width="265.9" height="31"/><rect class="bd" y="31" width="265.9" height="26"/><rect class="bd" y="57" width="265.9" height="26"/><path class="dv" d="M85.9,57V83M193.8,57V83"/><text class="n" x="6" y="20">rl_evolucao_odonto_proced</text><text class="e" x="258.9" y="21">[table]</text><text class="d" x="5" y="48">...</text><text x="5" y="75">&lt; 2</text><text class="e" x="188.8" y="75">0 rows</text></g>
<g id="rl_proced_atributo_complem" class="t" transform="translate(1241.7,5803)"><rect class="hd" width="272.1" height="31"/><rect class="bd" y="31" width="272.1" height="26"/><rect class="bd" y="57" width="272.1" height="26"/><path class="dv" d="M75.2,57V83M209.7,57V83"/><text class="n" x="6" y="20">rl_proced_atributo_complem</text><text class="e" x="265.1" y="21">[table]</text><text class="d" x="5" y="48">...</text><text x="5" y="75">&lt; 2</text><text class="e" x="204.7" y="75">14.249 rows</text></g>
<g id="rl_proced_cbo" class="t" transform="translate(1297,5915)"><rect class="hd" width="161.6" height="31"/><rect class="bd" y="31" width="161.6" height="26"/><rect class="bd" y="57" width="161.6" height="26"/><path class="dv" d="M31.6,57V83M129.9,57V83"/><text class="n" x="6" y="20">rl_proced_cbo</text><text class="e" x="154.6" y="21">[table]</text><text class="d" x="5" y="48">...</text><text x="5" y="75">&lt; 2</text><text class="e" x="124.9" y="75">256.600 rows</text><text class="e" x="156.6" y="75">2 &gt;</text></g>
<g id="rl_proced_cds_proced" class="t" transform="translate(1266,6027.4)"><rect class="hd" width="222.7" height="31"/><rect class="bd" y="31" width="222.7" height="26"/><rect class="bd" y="57" width="222.7" height="26"/><path class="dv" d="M66.7,57V83M156.8,57V83"/><text class="n" x="6" y="20">rl_proced_cds_proced</text><text class="e" x="215.7" y="21">[table]</text><text class="d" x="5" y="48">...</text><text x="5" y="75">&lt; 2</text><text class="e" x="151.8" y="75">0 rows</text><text class="e" x="217.7" y="75">2 &gt;</text></g>
<g id="rl_proced_exame_detalhe" class="t" transform="translate(1253.5,6139.8)"><rect class="hd" width="248.5" height="31"/><rect class="bd" y="31" width="248.5" height="26"/><rect class="bd" y="57" width="248.5" height="26"/><path class="dv" d="M77.7,57V83M170.3,57V83"/><text class="n" x="6" y="20">rl_proced_exame_detalhe</text><text class="e" x="241.5" y="21">[table]</text><text class="d" x="5" y="48">...</text><text x="5" y="75">&lt; 2</text><text class="e" x="165.3" y="75">1 row</text><text class="e" x="243.5" y="75">1 &gt;</text></g>
<g id="rl_proced_grupo_exame" class="t" transform="translate(1258.6,6286)"><rect class="hd" width="237.8" height="31"/><rect class="bd" y="31" width="237.8" height="26"/><rect class="bd" y="57" width="237.8" height="26"/><path class="dv" d="M71.1,57V83M180.5,57V83"/><text class="n" x="6" y="20">rl_proced_grupo_exame</text><text class="e" x="230.8" y="21">[table]</text><text class="d" x="5" y="48">...</text><text x="5" y="75">&lt; 2</text><text class="e" x="175.5" y="75">264 rows</text></g>
<g id="rl_proced_tipo_registro" class="t" transform="translate(1262,6397.7)"><rect class="hd" width="230.8" height="31"/><rect class="bd" y="31" width="230.8" height="26"/><rect class="bd" y="57" width="230.8" height="26"/><path class="dv" d="M62,57V83M182.2,57V83"/><text class="n" x="6" y="20">rl_proced_tipo_registro</text><text class="e" x="223.8" y="21">[table]</text><text class="d" x="5" y="48">...</text><text x="5" y="75">&lt; 2</text><text class="e" x="177.2" y="75">11.137 rows</text></g>
<g id="tb_cds_ficha_ativ_col" class="t" transform="translate(1268,6510)"><rect class="hd" width="218.7" height="31"/><rect class="bd" y="31" width="218.7" height="26"/><rect class="bd" y="57" width="218.7" height="26"/><path class="dv" d="M65.8,57V83M153.7,57V83"/><text class="n" x="6" y="20">tb_cds_ficha_ativ_col</text><text class="e" x="211.7" y="21">[table]</text><text class="d" x="5" y="48">...</text><text x="5" y="75">&lt; 5</text><text class="e" x="148.7" y="75">0 rows</text><text class="e" x="213.7" y="75">5 &gt;</text></g>
<g id="tb_parte_bucal_proced" class="t" transform="translate(1263,6622.6)"><rect class="hd" width="228.8" height="31"/><rect class="bd" y="31" width="228.8" height="26"/><rect class="bd" y="57" width="228.8" height="26"/><path class="dv" d="M64.1,57V83M178.2,57V83"/><text class="n" x="6" y="20">tb_parte_bucal_proced</text><text class="e" x="221.8" y="21">[table]</text><text class="d" x="5" y="48">...</text><text x="5" y="75">&lt; 3</text><text class="e" x="173.2" y="75">2.342 rows</text></g>
<g id="tb_proced_filtro" class="t" transform="translate(1290,6734)"><rect class="hd" width="174.7" height="31"/><rect class="bd" y="31" width="174.7" height="26"/><rect class="bd" y="57" width="174.7" height="26"/><path class="dv" d="M45.8,57V83M141.5,57V83"/><text class="n" x="6" y="20">tb_proced_filtro</text><text class="e" x="167.7" y="21">[table]</text><text class="d" x="5" y="48">...</text><text x="5" y="75">&lt; 1</text><text class="e" x="136.5" y="75">1.591 rows</text></g>
<g id="tb_proced_nome_popular" class="t" transform="translate(1253.5,6846.8)"><rect class="hd" width="248.5" height="31"/><rect class="bd" y="31" width="248.5" height="26"/><rect class="bd" y="57" width="248.5" height="26"/><path class="dv" d="M79.2,57V83M181.5,57V83"/><text class="n" x="6" y="20">tb_proced_nome_popular</text><text class="e" x="241.5" y="21">[table]</text><text class="d" x="5" y="48">...</text><text x="5" y="75">&lt; 1</text><text class="e" x="176.5" y="75">0 rows</text></g>

<!-- right column -->
<g id="tb_atend_prof_obs" class="t" transform="translate(1640.8,382.6)"><rect class="hd" width="197" height="31"/><rect class="bd" y="31" width="197" height="26"/><rect class="bd" y="57" width="197" height="26"/><path class="dv" d="M57.7,57V83M138.8,57V83"/><text class="n" x="6" y="20">tb_atend_prof_obs</text><text class="e" x="190" y="21">[table]</text><text class="d" x="5" y="48">...</text><text x="5" y="75">&lt; 2</text><text class="e" x="133.8" y="75">0 rows</text><text class="e" x="192" y="75">1 &gt;</text></g>
<g id="tb_sinan_notificacao_evolucao" class="t" transform="translate(1594.4,1145.6)"><rect class="hd" width="289.8" height="31"/><rect class="bd" y="31" width="289.8" height="26"/><rect class="bd" y="57" width="289.8" height="26"/><path class="dv" d="M93.6,57V83M208.6,57V83"/><text class="n" x="6" y="20">tb_sinan_notificacao_evolucao</text><text class="e" x="282.8" y="21">[table]</text><text class="d" x="5" y="48">...</text><text x="5" y="75">&lt; 3</text><text class="e" x="203.6" y="75">0 rows</text></g>
<g id="tb_problema" class="t" transform="translate(1665,2557)"><rect class="hd" width="148.6" height="31"/><rect class="bd" y="31" width="148.6" height="26"/><rect class="bd" y="57" width="148.6" height="26"/><path class="dv" d="M42.2,57V83M106.6,57V83"/><text class="n" x="6" y="20">tb_problema</text><text class="e" x="141.6" y="21">[table]</text><text class="d" x="5" y="48">...</text><text x="5" y="75">&lt; 4</text><text class="e" x="101.6" y="75">0 rows</text><text class="e" x="143.6" y="75">1 &gt;</text></g>
<g id="tb_tecido_mole" class="t" transform="translate(1654.5,3355)"><rect class="hd" width="169.3" height="31"/><rect class="bd" y="31" width="169.3" height="26"/><rect class="bd" y="57" width="169.3" height="26"/><path class="dv" d="M49.1,57V83M120.7,57V83"/><text class="n" x="6" y="20">tb_tecido_mole</text><text class="e" x="162.3" y="21">[table]</text><text class="d" x="5" y="48">...</text><text x="5" y="75">&lt; 5</text><text class="e" x="115.7" y="75">0 rows</text><text class="e" x="164.3" y="75">1 &gt;</text></g>
<g id="tb_exame_requisitado" class="t" transform="translate(1629,3535.7)"><rect class="hd" width="220" height="31"/><rect class="bd" y="31" width="220" height="26"/><rect class="bd" y="57" width="220" height="26"/><path class="dv" d="M63.3,57V83M149.3,57V83"/><text class="n" x="6" y="20">tb_exame_requisitado</text><text class="e" x="213" y="21">[table]</text><text class="d" x="5" y="48">...</text><text x="5" y="75">&lt; 6</text><text class="e" x="144.3" y="75">0 rows</text><text class="e" x="215" y="75">10 &gt;</text></g>
<g id="rl_cds_atend_dom_proced" class="t" transform="translate(1611.5,5394)"><rect class="hd" width="255.8" height="31"/><rect class="bd" y="31" width="255.8" height="26"/><rect class="bd" y="57" width="255.8" height="26"/><path class="dv" d="M81.9,57V83M186.7,57V83"/><text class="n" x="6" y="20">rl_cds_atend_dom_proced</text><text class="e" x="248.8" y="21">[table]</text><text class="d" x="5" y="48">...</text><text x="5" y="75">&lt; 2</text><text class="e" x="181.7" y="75">0 rows</text></g>
<g id="rl_cds_atend_individual_exame" class="t" transform="translate(1593,5803)"><rect class="hd" width="292.7" height="31"/><rect class="bd" y="31" width="292.7" height="26"/><rect class="bd" y="57" width="292.7" height="26"/><path class="dv" d="M94.7,57V83M210.8,57V83"/><text class="n" x="6" y="20">rl_cds_atend_individual_exame</text><text class="e" x="285.7" y="21">[table]</text><text class="d" x="5" y="48">...</text><text x="5" y="75">&lt; 2</text><text class="e" x="205.8" y="75">0 rows</text></g>

<!-- left side -->
<g id="tb_lotacao" class="t" transform="translate(303.8,1263.6)"><rect class="hd" width="132.5" height="31"/><rect class="bd" y="31" width="132.5" height="26"/><rect class="bd" y="57" width="132.5" height="26"/><path class="dv" d="M34.3,57V83M91.1,57V83"/><text class="n" x="6" y="20">tb_lotacao</text><text class="e" x="125.5" y="21">[table]</text><text class="d" x="5" y="48">...</text><text x="5" y="75">&lt; 4</text><text class="e" x="86.1" y="75">0 rows</text><text class="e" x="127.5" y="75">18 &gt;</text></g>
<g id="tb_atend_prof_tipo_encam_intrn" class="t" transform="translate(505.8,1921.9)"><rect class="hd" width="300.2" height="31"/><rect class="bd" y="31" width="300.2" height="26"/><rect class="bd" y="57" width="300.2" height="26"/><path class="dv" d="M92.6,57V83M207.6,57V83"/><text class="n" x="6" y="20">tb_atend_prof_tipo_encam_intrn</text><text class="e" x="293.2" y="21">[table]</text><text class="d" x="5" y="48">...</text><text x="5" y="75">&lt; 4</text><text class="e" x="202.6" y="75">0 rows</text><text class="e" x="295.2" y="75">1 &gt;</text></g>
<g id="tb_atend" class="t" transform="translate(310.8,2011.4)"><rect class="hd" width="118.5" height="31"/><rect class="bd" y="31" width="118.5" height="26"/><rect class="bd" y="57" width="118.5" height="26"/><path class="dv" d="M37.9,57V83M89.8,57V83"/><text class="n" x="6" y="20">tb_atend</text><text class="e" x="111.5" y="21">[table]</text><text class="d" x="5" y="48">...</text><text x="5" y="75">&lt; 10</text><text class="e" x="84.8" y="75">0 rows</text><text class="e" x="113.5" y="75">3 &gt;</text></g>
<g id="tb_classificacao_risco" class="t" transform="translate(15.4,2159)"><rect class="hd" width="223.1" height="31"/><rect class="bd" y="31" width="223.1" height="26"/><rect class="bd" y="57" width="223.1" height="26"/><path class="dv" d="M58.3,57V83M152.3,57V83"/><text class="n" x="6" y="20">tb_classificacao_risco</text><text class="e" x="216.1" y="21">[table]</text><text class="d" x="5" y="48">...</text><text class="e" x="147.3" y="75">0 rows</text><text class="e" x="218.1" y="75">2 &gt;</text></g>
<g id="tb_tipo_atend_prof" class="t" transform="translate(557.7,2105)"><rect class="hd" width="196.3" height="31"/><rect class="bd" y="31" width="196.3" height="26"/><rect class="bd" y="57" width="196.3" height="26"/><path class="dv" d="M49.8,57V83M134.7,57V83"/><text class="n" x="6" y="20">tb_tipo_atend_prof</text><text class="e" x="189.3" y="21">[table]</text><text class="d" x="5" y="48">...</text><text class="e" x="129.7" y="75">0 rows</text><text class="e" x="191.3" y="75">1 &gt;</text></g>
<g id="tb_status_atend_prof" class="t" transform="translate(548.6,2217)"><rect class="hd" width="214.6" height="31"/><rect class="bd" y="31" width="214.6" height="26"/><rect class="bd" y="57" width="214.6" height="26"/><path class="dv" d="M55.4,57V83M145.9,57V83"/><text class="n" x="6" y="20">tb_status_atend_prof</text><text class="e" x="207.6" y="21">[table]</text><text class="d" x="5" y="48">...</text><text class="e" x="140.9" y="75">0 rows</text><text class="e" x="209.6" y="75">1 &gt;</text></g>
<g id="tb_conselho_classe" class="t" transform="translate(553.7,2363.7)"><rect class="hd" width="204.6" height="31"/><rect class="bd" y="31" width="204.6" height="26"/><rect class="bd" y="57" width="204.6" height="26"/><path class="dv" d="M52.1,57V83M140.1,57V83"/><text class="n" x="6" y="20">tb_conselho_classe</text><text class="e" x="197.6" y="21">[table]</text><text class="d" x="5" y="48">...</text><text class="e" x="135.1" y="75">0 rows</text><text class="e" x="199.6" y="75">2 &gt;</text></g>
<g id="tb_estagio" class="t" transform="translate(589.7,2510.5)"><rect class="hd" width="132.7" height="31"/><rect class="bd" y="31" width="132.7" height="26"/><rect class="bd" y="57" width="132.7" height="26"/><path class="dv" d="M37.3,57V83M96,57V83"/><text class="n" x="6" y="20">tb_estagio</text><text class="e" x="125.7" y="21">[table]</text><text class="d" x="5" y="48">...</text><text x="5" y="75">&lt; 6</text><text class="e" x="91" y="75">0 rows</text><text class="e" x="127.7" y="75">1 &gt;</text></g>
<g id="tb_marcador_consumo_alimentar" class="t" transform="translate(501.6,2622.4)"><rect class="hd" width="308.8" height="31"/><rect class="bd" y="31" width="308.8" height="26"/><rect class="bd" y="57" width="308.8" height="26"/><path class="dv" d="M96.1,57V83M213.4,57V83"/><text class="n" x="6" y="20">tb_marcador_consumo_alimentar</text><text class="e" x="301.8" y="21">[table]</text><text class="d" x="5" y="48">...</text><text x="5" y="75">&lt; 1</text><text class="e" x="208.4" y="75">0 rows</text><text class="e" x="303.8" y="75">2 &gt;</text></g>
<g id="tb_tipo_participacao_atend" class="t" transform="translate(525.9,2734.3)"><rect class="hd" width="260.3" height="31"/><rect class="bd" y="31" width="260.3" height="26"/><rect class="bd" y="57" width="260.3" height="26"/><path class="dv" d="M71.1,57V83M176.7,57V83"/><text class="n" x="6" y="20">tb_tipo_participacao_atend</text><text class="e" x="253.3" y="21">[table]</text><text class="d" x="5" y="48">...</text><text class="e" x="171.7" y="75">0 rows</text><text class="e" x="255.3" y="75">2 &gt;</text></g>
<g id="tb_uf" class="t" transform="translate(593.3,2847)"><rect class="hd" width="125.4" height="31"/><rect class="bd" y="31" width="125.4" height="26"/><rect class="bd" y="57" width="125.4" height="26"/><path class="dv" d="M29.4,57V83M88,57V83"/><text class="n" x="6" y="20">tb_uf</text><text class="e" x="118.4" y="21">[table]</text><text class="d" x="5" y="48">...</text><text x="5" y="75">&lt; 1</text><text class="e" x="83" y="75">27 rows</text><text class="e" x="120.4" y="75">13 &gt;</text></g>
<g id="tb_assinatura_eletronica_atend" class="t" transform="translate(509.7,2958)"><rect class="hd" width="292.6" height="31"/><rect class="bd" y="31" width="292.6" height="26"/><rect class="bd" y="57" width="292.6" height="26"/><path class="dv" d="M90.3,57V83M202.3,57V83"/><text class="n" x="6" y="20">tb_assinatura_eletronica_atend</text><text class="e" x="285.6" y="21">[table]</text><text class="d" x="5" y="48">...</text><text x="5" y="75">&lt; 1</text><text class="e" x="197.3" y="75">0 rows</text><text class="e" x="287.6" y="75">1 &gt;</text></g>
<g id="tb_racionalidade_saude" class="t" transform="translate(539,3596.4)"><rect class="hd" width="234" height="31"/><rect class="bd" y="31" width="234" height="26"/><rect class="bd" y="57" width="234" height="26"/><path class="dv" d="M61.7,57V83M158.5,57V83"/><text class="n" x="6" y="20">tb_racionalidade_saude</text><text class="e" x="227" y="21">[table]</text><text class="d" x="5" y="48">...</text><text class="e" x="153.5" y="75">0 rows</text><text class="e" x="229" y="75">2 &gt;</text></g>
<g id="tb_tipo_agravo" class="t" transform="translate(572.8,4257)"><rect class="hd" width="166.5" height="31"/><rect class="bd" y="31" width="166.5" height="26"/><rect class="bd" y="57" width="166.5" height="26"/><path class="dv" d="M38.9,57V83M113.7,57V83"/><text class="n" x="6" y="20">tb_tipo_agravo</text><text class="e" x="159.5" y="21">[table]</text><text class="d" x="5" y="48">...</text><text class="e" x="108.7" y="75">0 rows</text><text class="e" x="161.5" y="75">1 &gt;</text></g>
<g id="tb_tipo_atend" class="t" transform="translate(578,5229)"><rect class="hd" width="156" height="31"/><rect class="bd" y="31" width="156" height="26"/><rect class="bd" y="57" width="156" height="26"/><path class="dv" d="M35.9,57V83M107,57V83"/><text class="n" x="6" y="20">tb_tipo_atend</text><text class="e" x="149" y="21">[table]</text><text class="d" x="5" y="48">...</text><text class="e" x="102" y="75">0 rows</text><text class="e" x="151" y="75">6 &gt;</text></g>

<!-- detailed tables -->
<g id="tb_atend_prof" class="t" transform="translate(876,2039)"><rect class="hd" width="286" height="31"/><rect class="bd" y="31" width="286" height="668"/><path class="dv" d="M0,60.2H286M0,89.4H286M0,118.6H286M0,147.8H286M0,177H286M0,206.2H286M0,235.4H286M0,264.6H286M0,293.8H286M0,323H286M0,352.2H286M0,381.4H286M0,410.6H286M0,439.8H286M0,469H286M0,498.2H286M0,527.4H286M0,556.6H286M0,585.8H286M0,615H286M0,644.2H286M0,672H286M90.6,672V699M195.5,672V699"/><text class="n" x="6" y="20">tb_atend_prof</text><text class="e" x="279" y="21">[table]</text>
<use xlink:href="#pk" href="#pk" x="13" y="45.6"/><text x="26" y="50.6">co_seq_atend_prof</text>
<text x="26" y="79.8">dt_inicio</text>
<use xlink:href="#fk" href="#fk" x="13" y="104"/><text x="26" y="109">co_atend</text>
<use xlink:href="#fk" href="#fk" x="13" y="133.2"/><text x="26" y="138.2">co_atend_prof_tipo_encam_intrn</text>
<use xlink:href="#fk" href="#fk" x="13" y="162.4"/><text x="26" y="167.4">co_lotacao</text>
<use xlink:href="#fk" href="#fk" x="13" y="191.6"/><text x="26" y="196.6">tp_atend_prof</text>
<use xlink:href="#fk" href="#fk" x="13" y="220.8"/><text x="26" y="225.8">st_atend_prof</text>
<text x="26" y="255">st_atend_enviado</text>
<text x="26" y="284.2">co_unico_ad_cidadao</text>
<use xlink:href="#fk" href="#fk" x="13" y="308.4"/><text x="26" y="313.4">co_classificacao_risco</text>
<text x="26" y="342.6">co_unico_atend_prof</text>
<use xlink:href="#fk" href="#fk" x="13" y="366.8"/><text x="26" y="371.8">tp_atend</text>
<use xlink:href="#fk" href="#fk" x="13" y="396"/><text x="26" y="401">co_uf_emissora_conselho_classe</text>
<use xlink:href="#fk" href="#fk" x="13" y="425.2"/><text x="26" y="430.2">co_conselho_classe</text>
<use xlink:href="#fk" href="#fk" x="13" y="454.4"/><text x="26" y="459.4">co_racionalidade_saude</text>
<use xlink:href="#fk" href="#fk" x="13" y="483.6"/><text x="26" y="488.6">co_lotacao_atend_compartilhado</text>
<use xlink:href="#fk" href="#fk" x="13" y="512.8"/><text x="26" y="517.8">co_estagio</text>
<use xlink:href="#fk" href="#fk" x="13" y="542"/><text x="26" y="547">co_marcador_consumo_alim</text>
<use xlink:href="#fk" href="#fk" x="13" y="571.2"/><text x="26" y="576.2">tp_participacao_cidadao</text>
<use xlink:href="#fk" href="#fk" x="13" y="600.4"/><text x="26" y="605.4">tp_participacao_prof_convidado</text>
<use xlink:href="#fk" href="#fk" x="13" y="629.6"/><text x="26" y="634.6">co_assinatura_eletronica_atend</text>
<text class="d" x="5" y="662">...</text><text x="5" y="691">&lt; 16</text><text class="e" x="190.5" y="691">0 rows</text><text class="e" x="281" y="691">42 &gt;</text></g>

<g id="tb_cid10" class="t" transform="translate(942.4,4197.5)"><rect class="hd" width="152.6" height="31"/><rect class="bd" y="31" width="152.6" height="170.8"/><path class="dv" d="M0,60.2H152.6M0,89.4H152.6M0,118.6H152.6M0,147.8H152.6M0,174.8H152.6M29.4,174.8V201.8M115.9,174.8V201.8"/><text class="n" x="6" y="20">tb_cid10</text><text class="e" x="145.6" y="21">[table]</text><use xlink:href="#pk" href="#pk" x="13" y="45.6"/><text x="33" y="50.6">co_cid10</text><text x="33" y="79.8">nu_cid10</text><use xlink:href="#fk" href="#fk" x="13" y="104"/><text x="33" y="109">tp_agravo</text><text x="33" y="138.2">no_cid10_filtro</text><text class="d" x="5" y="165.8">...</text><text x="4" y="193.8">&lt; 1</text><text class="e" x="111.9" y="193.8">14.240 rows</text><text class="e" x="149.6" y="193.8">26 &gt;</text></g>

<g id="tb_proced" class="t" transform="translate(877.7,5912.8)"><rect class="hd" width="282.8" height="31"/><rect class="bd" y="31" width="282.8" height="375.2"/><path class="dv" d="M0,60.2H282.8M0,89.4H282.8M0,118.6H282.8M0,147.8H282.8M0,177H282.8M0,206.2H282.8M0,235.4H282.8M0,264.6H282.8M0,293.8H282.8M0,323H282.8M0,352.2H282.8M0,379.2H282.8M66,379.2V406.2M195,379.2V406.2"/><text class="n" x="6" y="20">tb_proced</text><text class="e" x="275.8" y="21">[table]</text>
<use xlink:href="#pk" href="#pk" x="13.6" y="45.6"/><text x="27" y="50.6">co_seq_proced</text>
<text x="27" y="79.8">no_proced_filtro</text>
<text x="27" y="109">nu_idade_minima</text>
<text x="27" y="138.2">nu_idade_maxima</text>
<text x="27" y="167.4">co_proced</text>
<use xlink:href="#fk" href="#fk" x="13.6" y="191.6"/><text x="27" y="196.6">co_complexidade</text>
<use xlink:href="#fk" href="#fk" x="13.6" y="220.8"/><text x="27" y="225.8">co_proced_grupo</text>
<use xlink:href="#fk" href="#fk" x="13.6" y="250"/><text x="27" y="255">co_proced_subgrupo</text>
<use xlink:href="#fk" href="#fk" x="13.6" y="279.2"/><text x="27" y="284.2">co_proced_forma_organizacional</text>
<text x="27" y="313.4">tp_proced</text>
<text x="27" y="342.6">dt_ultima_atualizacao</text>
<text class="d" x="5" y="370.2">...</text><text class="e" x="190" y="398.2">5.080 rows</text><text class="e" x="277.8" y="398.2">19 &gt;</text></g>

<text x="8" y="6975" font-size="14">Generated by SchemaSpy</text>
</svg>
